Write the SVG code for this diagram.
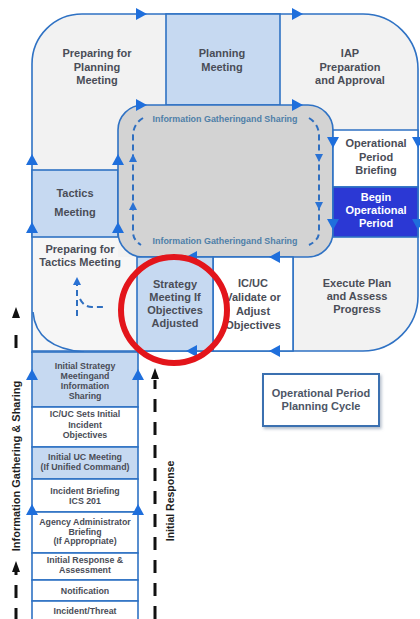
<svg xmlns="http://www.w3.org/2000/svg" width="420" height="619" viewBox="0 0 420 619">
<defs>
<style>
.ln{stroke:#2f72c4;stroke-width:1.6;}
.lb{fill:#c6d9f1;}
.wh{fill:#ffffff;}
.t{font-family:"Liberation Sans",Arial,sans-serif;font-weight:bold;font-size:11px;fill:#4a4d57;text-anchor:middle;}
.s{font-family:"Liberation Sans",Arial,sans-serif;font-weight:bold;font-size:8.8px;fill:#4a4d57;text-anchor:middle;}
.ig{font-family:"Liberation Sans",Arial,sans-serif;font-weight:bold;font-size:8.6px;fill:#4f7fa8;text-anchor:middle;}
.side{font-family:"Liberation Sans",Arial,sans-serif;font-weight:bold;font-size:11px;fill:#1e1e1e;text-anchor:middle;}
.dsh{fill:none;stroke:#2f6fc0;stroke-width:2;stroke-dasharray:6 4;}
.blk{fill:none;stroke:#111;stroke-width:3;stroke-dasharray:13 10;}
</style>
<path id="tri" d="M-6,5 L0,-6 L6,5 Z" fill="#1f6fdc"/>
<path id="stri" d="M-4,3 L0,-5 L4,3 Z" fill="#2a72d4"/>
<path id="btri" d="M-4,5 L0,-6 L4,5 Z" fill="#111"/>
<filter id="sh" x="-10%" y="-10%" width="130%" height="140%">
<feDropShadow dx="1.5" dy="2" stdDeviation="1.5" flood-color="#7f8fa6" flood-opacity="0.6"/>
</filter>
</defs>
<rect width="420" height="619" fill="#ffffff"/>

<g id="cycle-outline">
<path class="ln" d="M32,353 L32,64 A50,50 0 0 1 82,14 L363,14 A55,55 0 0 1 418,69 L418,296 A55,55 0 0 1 363,351 L32,351 Z" fill="#f2f2f2"/>
</g>

<g id="node-prep-planning">
<text class="t" x="97" y="57">Preparing for</text>
<text class="t" x="97" y="71">Planning</text>
<text class="t" x="97" y="84">Meeting</text>
</g>

<g id="node-planning-meeting">
<rect class="ln lb" x="166" y="14" width="114" height="91"/>
<text class="t" x="222" y="57">Planning</text>
<text class="t" x="222" y="71">Meeting</text>
</g>

<g id="node-iap">
<text class="t" x="350" y="57">IAP</text>
<text class="t" x="350" y="71">Preparation</text>
<text class="t" x="350" y="84">and Approval</text>
</g>

<g id="node-tactics">
<rect class="ln lb" x="32" y="170" width="86" height="67"/>
<text class="t" x="75" y="197">Tactics</text>
<text class="t" x="75" y="216">Meeting</text>
</g>

<g id="node-prep-tactics">
<path d="M33,238 L118,238 L118,257 L137,257 L137,350 L33,350 Z" fill="#f6f6f6"/>
<path class="ln" d="M33,312 Q36,348 84,352" fill="none"/>
<text class="t" x="80" y="253">Preparing for</text>
<text class="t" x="80" y="266">Tactics Meeting</text>
<path class="dsh" d="M77,316 L77,284" stroke-width="1.6" stroke-dasharray="4 3"/>
<use href="#stri" x="77" y="282"/>
<path class="dsh" d="M80,299 Q84,307 92,307 L103,307" stroke-width="1.6" stroke-dasharray="4 3"/>
</g>

<g id="node-info-gathering">
<rect class="ln" x="118" y="105" width="215" height="152" rx="25" ry="25" fill="#d3d3d3"/>
<text class="ig" x="225" y="122" textLength="145" lengthAdjust="spacingAndGlyphs">Information Gatheringand Sharing</text>
<text class="ig" x="225" y="244" textLength="145" lengthAdjust="spacingAndGlyphs">Information Gatheringand Sharing</text>
<path class="dsh" d="M143,118 Q133,124 133,136 L133,232 Q133,240 141,245"/>
<path class="dsh" d="M309,118 Q319,124 319,136 L319,232 Q319,240 309,245"/>
<use href="#stri" transform="translate(133,159)"/>
<use href="#stri" transform="translate(133,207)"/>
<use href="#stri" transform="translate(319,157) rotate(180)"/>
<use href="#stri" transform="translate(319,205) rotate(180)"/>
</g>

<g id="node-op-briefing">
<path class="ln" d="M333,130 L418,130 L418,187 L333,187 Z" fill="#ffffff"/>
<text class="t" x="376" y="147">Operational</text>
<text class="t" x="376" y="161">Period</text>
<text class="t" x="376" y="174">Briefing</text>
</g>

<g id="node-begin-op">
<rect class="ln" x="333" y="187" width="85" height="50" fill="#2b38d4"/>
<text class="t" x="376" y="201" style="fill:#ffffff">Begin</text>
<text class="t" x="376" y="214" style="fill:#ffffff">Operational</text>
<text class="t" x="376" y="227" style="fill:#ffffff">Period</text>
</g>

<g id="node-execute">
<line class="ln" x1="293" y1="257" x2="293" y2="351"/>
<text class="t" x="357" y="287">Execute Plan</text>
<text class="t" x="357" y="300">and Assess</text>
<text class="t" x="357" y="313">Progress</text>
</g>

<g id="node-icuc-validate">
<rect class="ln wh" x="213" y="257" width="80" height="94"/>
<text class="t" x="253" y="287">IC/UC</text>
<text class="t" x="253" y="301">Validate or</text>
<text class="t" x="253" y="315">Adjust</text>
<text class="t" x="253" y="329">Objectives</text>
</g>

<g id="node-strategy">
<rect class="ln lb" x="137" y="257" width="76" height="94"/>
<text class="t" x="175" y="288">Strategy</text>
<text class="t" x="175" y="301">Meeting If</text>
<text class="t" x="175" y="314">Objectives</text>
<text class="t" x="175" y="327">Adjusted</text>
</g>

<g id="node-initial-strategy">
<rect class="ln lb" x="32" y="352" width="106" height="55"/>
<text class="s" x="85" y="369">Initial Strategy</text>
<text class="s" x="85" y="379">Meetingand</text>
<text class="s" x="85" y="389">Information</text>
<text class="s" x="85" y="399">Sharing</text>
</g>

<g id="node-icuc-sets">
<rect class="ln wh" x="32" y="407" width="106" height="40"/>
<text class="s" x="85" y="417">IC/UC Sets Initial</text>
<text class="s" x="85" y="428">Incident</text>
<text class="s" x="85" y="438">Objectives</text>
</g>

<g id="node-initial-uc">
<rect class="ln lb" x="32" y="447" width="106" height="32"/>
<text class="s" x="85" y="460">Initial UC Meeting</text>
<text class="s" x="85" y="470">(If Unified Command)</text>
</g>

<g id="node-incident-briefing">
<rect class="ln wh" x="32" y="479" width="106" height="33"/>
<text class="s" x="85" y="494">Incident Briefing</text>
<text class="s" x="85" y="504">ICS 201</text>
</g>

<g id="node-agency">
<rect class="ln wh" x="32" y="512" width="106" height="41"/>
<text class="s" x="85" y="525">Agency Administrator</text>
<text class="s" x="85" y="535">Briefing</text>
<text class="s" x="85" y="544">(If Appropriate)</text>
</g>

<g id="node-initial-response">
<rect class="ln wh" x="32" y="553" width="106" height="27"/>
<text class="s" x="85" y="563">Initial Response &amp;</text>
<text class="s" x="85" y="573">Assessment</text>
</g>

<g id="node-notification">
<rect class="ln wh" x="32" y="580" width="106" height="21"/>
<text class="s" x="85" y="594">Notification</text>
</g>

<g id="node-incident-threat">
<rect class="ln wh" x="32" y="601" width="106" height="22"/>
<text class="s" x="85" y="614">Incident/Threat</text>
</g>

<g id="node-op-cycle-label">
<rect x="263" y="374" width="116" height="52" fill="#ffffff" stroke="#3a6fb0" stroke-width="2" filter="url(#sh)"/>
<text class="t" x="321" y="397" style="fill:#4d5666;font-size:11px">Operational Period</text>
<text class="t" x="321" y="410" style="fill:#4d5666;font-size:11px">Planning Cycle</text>
</g>

<g id="connectors">
<use href="#tri" transform="translate(32,160)"/>
<use href="#tri" transform="translate(118,160)"/>
<use href="#tri" transform="translate(32,228)"/>
<use href="#tri" transform="translate(118,228)"/>
<use href="#tri" transform="translate(32,375)"/>
<use href="#tri" transform="translate(138,375)"/>
<use href="#tri" transform="translate(32,510)"/>
<use href="#tri" transform="translate(138,510)"/>
<use href="#tri" transform="translate(141,14) rotate(90)"/>
<use href="#tri" transform="translate(297,14) rotate(90)"/>
<use href="#tri" transform="translate(141,105) rotate(90)"/>
<use href="#tri" transform="translate(297,105) rotate(90)"/>
<use href="#tri" transform="translate(333,142) rotate(180)"/>
<use href="#tri" transform="translate(418,142) rotate(180)"/>
<use href="#tri" transform="translate(333,224) rotate(180)"/>
<use href="#tri" transform="translate(418,224) rotate(180)"/>
<use href="#tri" transform="translate(275,257) rotate(-90)"/>
<use href="#tri" transform="translate(192,257) rotate(-90)"/>
<use href="#tri" transform="translate(275,351) rotate(-90)"/>
<use href="#tri" transform="translate(192,351) rotate(-90)"/>

<line class="blk" x1="16" y1="619" x2="16" y2="572" stroke-dasharray="15 16" stroke-dashoffset="2"/>
<use href="#btri" x="16" y="567"/>
<line class="blk" x1="16" y1="348" x2="16" y2="330"/>
<use href="#btri" x="16" y="313"/>
<line class="blk" x1="155" y1="619" x2="155" y2="380"/>
<use href="#btri" x="155" y="374"/>
</g>

<g id="labels-side">
<text class="side" transform="translate(20,466) rotate(-90)">Information Gathering &amp; Sharing</text>
<text class="side" transform="translate(174,501) rotate(-90)" style="font-size:10.5px">Initial Response</text>
</g>

<g id="highlight">
<circle cx="174" cy="310" r="53" fill="none" stroke="#e3151b" stroke-width="6"/>
</g>
</svg>
